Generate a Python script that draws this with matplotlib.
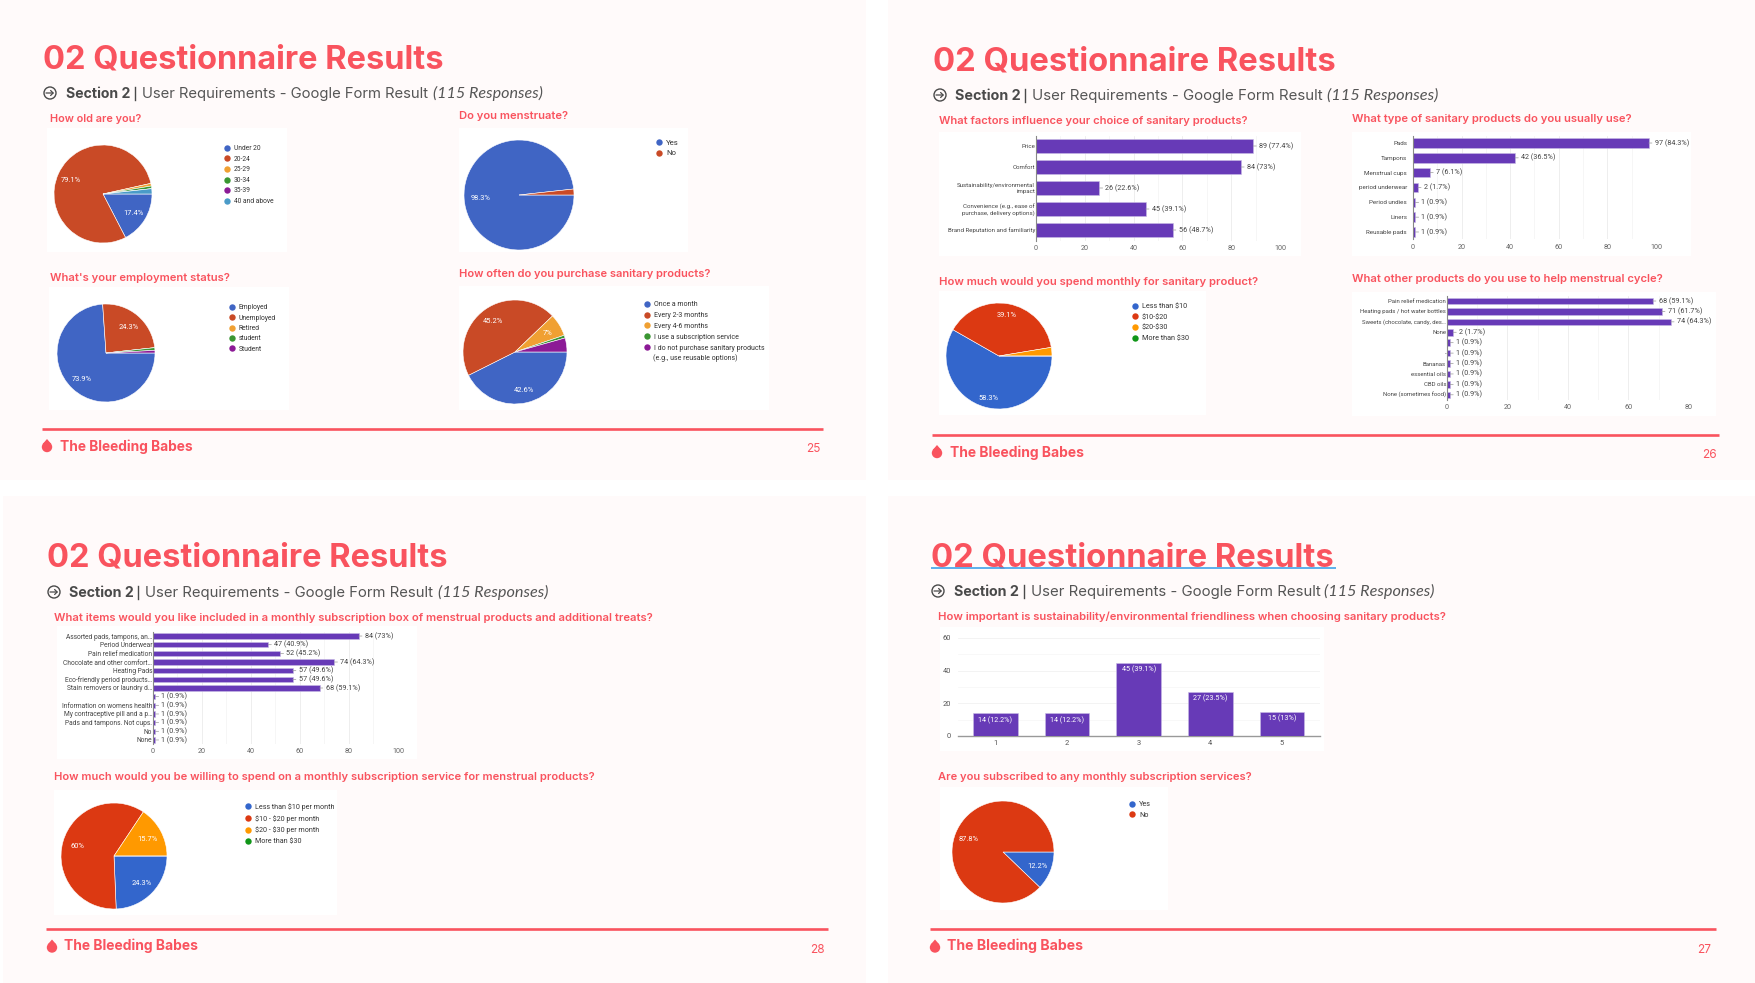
import matplotlib
matplotlib.use("Agg")
import matplotlib.pyplot as plt
from matplotlib.lines import Line2D
from matplotlib.patches import Circle, Polygon, Rectangle

plt.rcParams['text.parse_math'] = False

W, H = 1756, 983
RED = '#F9535E'
DARK = '#4a4a4a'
PURPLE = '#673AB7'
OLD_COLORS = ['#4065C4', '#C94A26', '#F0A032', '#3A9632', '#8C1A96', '#4A9BC8']
NEW_COLORS = ['#3366CC', '#DC3912', '#FF9900', '#109618']
HEAD_FONT = ['Inter', 'DejaVu Sans']
CHART_FONT = ['Roboto', 'DejaVu Sans']
TOTAL = 115

age_labels = ['Under 20', '20-24', '25-29', '30-34', '35-39', '40 and above']
age_values = [20, 91, 1, 1, 0, 2]
mens_labels = ['Yes', 'No']
mens_values = [113, 2]
job_labels = ['Employed', 'Unemployed', 'Retired', 'student', 'Student']
job_values = [85, 28, 0, 1, 1]
often_labels = ['Once a month', 'Every 2-3 months', 'Every 4-6 months', 'I use a subscription service',
                'I do not purchase sanitary products']
often_values = [49, 52, 8, 1, 5]

factor_labels = ['Price', 'Comfort', 'Sustainability/environmental\nimpact',
                 'Convenience (e.g., ease of\npurchase, delivery options)', 'Brand Reputation and familiarity']
factor_values = [89, 84, 26, 45, 56]
type_labels = ['Pads', 'Tampons', 'Menstrual cups', 'period underwear', 'Period undies', 'Liners', 'Reusable pads']
type_values = [97, 42, 7, 2, 1, 1, 1]
spend_labels = ['Less than $10', '$10-$20', '$20-$30', 'More than $30']
spend_values = [67, 45, 3, 0]
other_labels = ['Pain relief medication', 'Heating pads / hot water bottles', 'Sweets (chocolate, candy, des…',
                'None', '', '-', 'Bananas', 'essential oils', 'CBD oils', 'None (sometimes food)']
other_values = [68, 71, 74, 2, 1, 1, 1, 1, 1, 1]

box_labels = ['Assorted pads, tampons, an…', 'Period Underwear', 'Pain relief medication',
              'Chocolate and other comfort…', 'Heating Pads', 'Eco-friendly period products…',
              'Stain removers or laundry d…', '', 'Information on womens health',
              'My contraceptive pill and a p…', 'Pads and tampons. Not cups.', 'No', 'None']
box_values = [84, 47, 52, 74, 57, 57, 68, 1, 1, 1, 1, 1, 1]
sub_spend_labels = ['Less than $10 per month', '$10 - $20 per month', '$20 - $30 per month', 'More than $30']
sub_spend_values = [28, 69, 18, 0]

rating_labels = ['1', '2', '3', '4', '5']
rating_values = [14, 14, 45, 27, 15]
subscribed_labels = ['Yes', 'No']
subscribed_values = [14, 101]

fig = plt.figure(figsize=(W / 100, H / 100), dpi=100, facecolor='white')
ov = fig.add_axes([0, 0, 1, 1], zorder=0)
ov.set_xlim(0, W)
ov.set_ylim(H, 0)
ov.set_axis_off()
renderer = fig.canvas.get_renderer()


def px_axes(x0, y0, x1, y1):
    return fig.add_axes([x0 / W, 1 - y1 / H, (x1 - x0) / W, (y1 - y0) / H], zorder=2)


def box(x0, y0, x1, y1, color='white'):
    ov.add_patch(Rectangle((x0, y0), x1 - x0, y1 - y0, facecolor=color, edgecolor='none'))


def fit_text(x0, x1, y, s, **kw):
    # scale the font so the string spans x0..x1
    t = ov.text(x0, y, s, va='baseline', ha='left', **kw)
    w = t.get_window_extent(renderer).width
    t.set_fontsize(t.get_fontsize() * (x1 - x0) / w)
    return t


def fmt_pct(p):
    s = f'{p:.1f}'
    return s[:-2] if s.endswith('.0') else s


def header(x0, x1, y, sx0, sx1, sy, icon_x):
    fit_text(x0, x1, y, '02 Questionnaire Results', color=RED, family=HEAD_FONT, weight='bold', fontsize=24)
    k = (sx1 - sx0) / 477
    fit_text(sx0, sx0 + 65 * k, sy, 'Section 2', color=DARK, family=HEAD_FONT, weight='bold', fontsize=11)
    ov.plot([sx0 + 69 * k] * 2, [sy - 11, sy + 2], color=DARK, lw=1)
    fit_text(sx0 + 76 * k, sx0 + 362 * k, sy, 'User Requirements - Google Form Result', color='#555555',
             family=HEAD_FONT, fontsize=11)
    fit_text(sx0 + 367 * k, sx1, sy, '(115 Responses)', color='#555555', family=['Lato', 'DejaVu Sans'],
             style='italic', fontsize=11)
    iy = sy - 5
    ov.add_patch(Circle((icon_x, iy), 6, facecolor='none', edgecolor=DARK, lw=1))
    ov.annotate('', xy=(icon_x + 4, iy), xytext=(icon_x - 4, iy),
                arrowprops=dict(arrowstyle='->,head_length=0.18,head_width=0.18', color=DARK, lw=0.9,
                                shrinkA=0, shrinkB=0))


def footer(x0, x1, y, tx0, tx1, page, page_right, drop_x, dy=0):
    ov.plot([x0, x1], [y, y], color=RED, lw=1.9, solid_capstyle='butt')
    fit_text(tx0, tx1, y + 21 + dy, 'The Bleeding Babes', color=RED, family=HEAD_FONT, weight='bold', fontsize=11)
    ov.text(page_right, y + 24, page, color=RED, family=HEAD_FONT, fontsize=8.5, ha='right', va='baseline')
    ov.add_patch(Circle((drop_x, y + 18.5), 5.2, facecolor=RED, edgecolor='none'))
    ov.add_patch(Polygon([(drop_x - 4.3, y + 15.5), (drop_x, y + 10.5), (drop_x + 4.3, y + 15.5)],
                         facecolor=RED, edgecolor='none'))


def question(x0, x1, y, s):
    fit_text(x0, x1, y, s, color=RED, family=HEAD_FONT, weight='semibold', fontsize=9)


def pie_chart(cx, cy, r, values, labels, colors, dot_x, dot_y, step, pct_r=0.75, fs=5.2):
    ax = px_axes(cx - r, cy - r, cx + r, cy + r)

    def autopct(p):
        return fmt_pct(p) + '%' if p >= 5 else ''

    wedges, _, autotexts = ax.pie(values, colors=colors[:len(values)], startangle=0, counterclock=False,
                                  autopct=autopct, pctdistance=pct_r,
                                  wedgeprops=dict(edgecolor='white', linewidth=0.4))
    for t in autotexts:
        t.set_color('white')
        t.set_fontsize(5.4)
        t.set_family(CHART_FONT)
        t.set_y(t.get_position()[1] - 1.2 / r)
    ax.set_xlim(-1, 1)
    ax.set_ylim(-1, 1)
    handles = [Line2D([], [], linestyle='none', marker='o', markersize=4.6, color=c, markeredgewidth=0)
               for c in colors[:len(values)]]
    fpx = fs * 100 / 72
    ax.legend(handles, labels, loc='upper left', bbox_to_anchor=(dot_x - 3.2, dot_y - fpx * 0.415),
              bbox_transform=ov.transData, frameon=False, borderpad=0, borderaxespad=0,
              labelspacing=(step - fpx * 1.03) / fpx, handlelength=6.4 / fpx, handletextpad=3.8 / fpx,
              prop=dict(family=CHART_FONT, size=fs), labelcolor='#333333')
    return ax


def hbar_chart(x0, x1, y0, y1, xmax, major, labels, values, height=0.63, label_fs=5.2, pad=0.7):
    ax = px_axes(x0, y0, x1, y1)
    ax.patch.set_alpha(0)
    pos = list(range(len(values)))
    ax.barh(pos, values, height=height, color=PURPLE, edgecolor='#C9BBE6', linewidth=0.4, zorder=3)
    ax.set_xlim(0, xmax)
    ax.set_ylim(len(values) - 0.5, -0.5)
    ax.set_yticks(pos)
    ax.set_yticklabels(labels, fontsize=label_fs, family=CHART_FONT, color='#444444', ma='right', linespacing=1.15)
    ax.set_xticks(range(0, xmax + 1, major))
    ax.set_xticks(range(0, xmax + 1, major // 2), minor=True)
    ax.tick_params(axis='both', which='both', length=0)
    ax.tick_params(axis='y', pad=pad)
    ax.tick_params(axis='x', pad=3, labelsize=5.2, labelcolor='#666666')
    for lab in ax.get_xticklabels():
        lab.set_family(CHART_FONT)
    ax.grid(axis='x', which='major', color='#E8E8E8', lw=0.5, zorder=0)
    ax.grid(axis='x', which='minor', color='#F3F3F3', lw=0.5, zorder=0)
    for name in ['top', 'right', 'bottom']:
        ax.spines[name].set_visible(False)
    ax.spines['left'].set_color('#888888')
    ax.spines['left'].set_linewidth(0.8)
    ax.spines['left'].set_zorder(4)
    for i, v in enumerate(values):
        ax.annotate(f'{v} ({fmt_pct(v / TOTAL * 100)}%)', xy=(v, i), xytext=(6, 0), textcoords='offset pixels',
                    fontsize=5.2, family=CHART_FONT, color='#444444', va='center', ha='left',
                    arrowprops=dict(arrowstyle='-', color='#999999', lw=0.5, shrinkA=0, shrinkB=0))
    return ax


# slide backgrounds
box(0, 0, 866, 480, '#FFFAFA')
box(888, 0, W, 480, '#FFFAFA')
box(3, 496, 866, H, '#FFFAFA')
box(888, 496, W, H, '#FFFAFA')

# white chart panels
box(47, 128, 287, 252)
box(459, 128, 688, 252)
box(49, 287, 289, 410)
box(459, 286, 769, 410)
box(939, 132, 1301, 256)
box(1352, 132, 1691, 256)
box(939, 291, 1206, 415)
box(1352, 292, 1716, 416)
box(57, 626, 417, 759)
box(54, 790, 337, 915)
box(940, 627, 1324, 751)
box(940, 787, 1168, 910)

# slide 25
header(43, 445, 69, 66, 543, 98, 50)
footer(42, 823, 428.5, 60, 194, '25', 821, 47, dy=1.5)
question(50, 141, 122, 'How old are you?')
question(459, 568, 119, 'Do you menstruate?')
question(50, 230, 281, "What's your employment status?")
question(459, 711, 277, 'How often do you purchase sanitary products?')
pie_chart(103, 194, 49, age_values, age_labels, OLD_COLORS, 227, 148, 10.4, pct_r=0.72, fs=4.8)
pie_chart(519, 195, 55, mens_values, mens_labels, OLD_COLORS, 659, 143, 11.7, pct_r=0.7, fs=5.6)
pie_chart(106, 353, 49, job_values, job_labels, OLD_COLORS, 232, 307, 10.4, pct_r=0.72, fs=4.9)
pie_chart(515, 352, 52, often_values, often_labels, OLD_COLORS, 647, 304, 11, pct_r=0.74, fs=5.0)
ov.text(653, 360, '(e.g., use reusable options)', fontsize=5.0, family=CHART_FONT, color='#333333', va='baseline')

# slide 26
header(933, 1338, 71, 955, 1438, 100, 940)
footer(932, 1719, 434.5, 950, 1085, '26', 1717, 937, dy=1.5)
question(939, 1248, 124.5, 'What factors influence your choice of sanitary products?')
question(1352, 1632, 121.5, 'What type of sanitary products do you usually use?')
question(939, 1259, 285, 'How much would you spend monthly for sanitary product?')
question(1352, 1663, 282, 'What other products do you use to help menstrual cycle?')
hbar_chart(1036, 1280, 135.5, 240.5, 100, 20, factor_labels, factor_values, label_fs=4.4)
hbar_chart(1413, 1656, 135.6, 239.4, 100, 20, type_labels, type_values, label_fs=4.5, pad=4.3)
hbar_chart(1447, 1689, 295.8, 400, 80, 20, other_labels, other_values, label_fs=4.3)
pie_chart(999, 356, 53, spend_values, spend_labels, NEW_COLORS, 1135, 306, 11.2, pct_r=0.8, fs=5.2)

# slide 28
header(47, 449, 567, 69, 548, 597, 54)
footer(46, 828, 929, 64, 199, '28', 825, 52)
question(54, 655, 621, 'What items would you like included in a monthly subscription box of menstrual products and additional treats?')
question(54, 594, 780, 'How much would you be willing to spend on a monthly subscription service for menstrual products?')
hbar_chart(153, 398, 631.7, 744.3, 100, 20, box_labels, box_values, label_fs=4.8)
pie_chart(114, 856, 53, sub_spend_values, sub_spend_labels, NEW_COLORS, 248, 806, 11.3, pct_r=0.72, fs=5.1)

# slide 27
header(931, 1336, 566, 954, 1435, 596, 938)
ov.plot([931, 1336], [568, 568], color='#2F9BE8', lw=1.1, solid_capstyle='butt', zorder=5)
footer(930, 1716, 929, 947, 1084, '27', 1711, 935)
question(938, 1450, 620, 'How important is sustainability/environmental friendliness when choosing sanitary products?')
question(938, 1252, 780, 'Are you subscribed to any monthly subscription services?')
pie_chart(1003, 852, 51, subscribed_values, subscribed_labels, NEW_COLORS, 1132, 804, 11, pct_r=0.72, fs=5.2)

ax = px_axes(958, 638, 1320, 736)
ax.patch.set_alpha(0)
ax.bar(rating_labels, rating_values, width=0.625, color=PURPLE, edgecolor='#C9BBE6', linewidth=0.4, zorder=3)
ax.set_xlim(-0.52, 4.53)
ax.set_ylim(0, 60)
ax.set_yticks([0, 20, 40, 60])
ax.set_yticks([10, 30, 50], minor=True)
ax.tick_params(axis='both', which='both', length=0, labelsize=5.4, labelcolor='#555555')
ax.tick_params(axis='y', pad=5)
ax.tick_params(axis='x', pad=3)
for lab in ax.get_xticklabels() + ax.get_yticklabels():
    lab.set_family(CHART_FONT)
ax.grid(axis='y', which='major', color='#EEEEEE', lw=0.5, zorder=0)
ax.grid(axis='y', which='minor', color='#F5F5F5', lw=0.5, zorder=0)
for name in ['top', 'right', 'left']:
    ax.spines[name].set_visible(False)
ax.spines['bottom'].set_color('#999999')
ax.spines['bottom'].set_linewidth(1)
for i, v in enumerate(rating_values):
    ax.annotate(f'{v} ({fmt_pct(v / TOTAL * 100)}%)', xy=(i, v), xytext=(0, -3), textcoords='offset pixels',
                fontsize=5.2, family=CHART_FONT, color='white', ha='center', va='top', zorder=5)

fig.savefig('out.png', dpi=100)
